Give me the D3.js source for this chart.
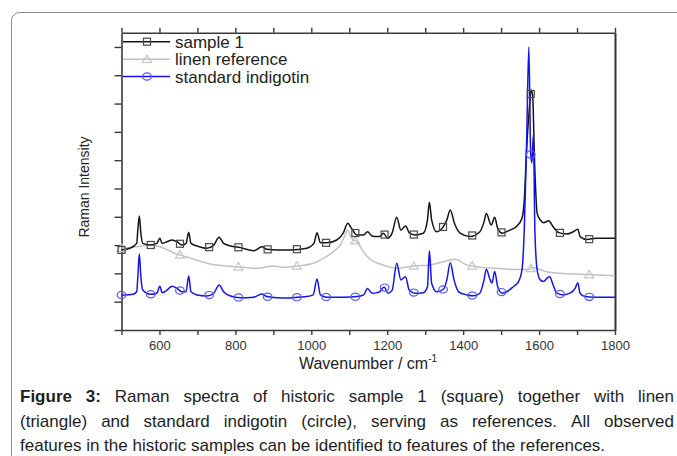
<!DOCTYPE html>
<html><head><meta charset="utf-8">
<script src="https://cdn.jsdelivr.net/npm/d3@7"></script>
<style>html,body{margin:0;padding:0;background:#fff;}svg{display:block;font-family:"Liberation Sans",Arial,Helvetica,sans-serif;}</style>
</head><body>
<svg id="c" width="677" height="456"></svg>
<script>
// ---- data (wavenumber / cm-1, Raman intensity in arbitrary units) ----
const xTicks = [500,600,700,800,900,1000,1100,1200,1300,1400,1500,1600,1700,1800];
const xTickLabels = ["600","800","1000","1200","1400","1600","1800"];
const yTicks = [0,1,2,3,4,5,6,7,8,9,10];

const sampleWn = [500,522,540,543,547,551,556,576,593,601,607,620,633,646,659,670,677,683,699,725,743,757,769,787,813,848,870,883,910,945,988,1007,1015,1024,1041,1067,1084,1096,1106,1120,1138,1148,1160,1173,1181,1190,1201,1213,1225,1236,1248,1259,1273,1295,1306,1311,1317,1330,1348,1357,1366,1377,1392,1418,1444,1455,1461,1474,1483,1491,1503,1523,1540,1555,1561,1567,1574,1579,1583,1588,1595,1603,1612,1625,1637,1652,1673,1690,1702,1708,1726,1751,1800];
const sampleI  = [2.83,2.89,3.06,3.53,4.03,3.42,3.06,3.00,3.06,3.24,3.06,3.12,3.18,3.12,3.00,3.06,3.45,3.06,2.97,2.89,3.00,3.28,3.06,2.97,2.91,2.80,2.94,2.85,2.83,2.83,2.89,3.06,3.44,3.08,3.08,3.18,3.42,3.77,3.59,3.36,3.36,3.47,3.32,3.30,3.30,3.42,3.24,3.43,3.98,3.53,3.67,3.42,3.36,3.42,3.89,4.51,3.89,3.47,3.65,3.89,4.24,3.77,3.42,3.30,3.47,3.82,4.12,3.71,3.98,3.59,3.42,3.53,3.65,3.95,4.59,6.36,7.77,8.48,8.30,6.00,4.12,3.89,3.79,3.86,3.65,3.44,3.39,3.47,3.56,3.30,3.20,3.24,3.24];

const linenWn = [500,540,575,601,645,689,733,777,821,856,900,926,961,1005,1032,1058,1076,1089,1095,1106,1120,1137,1155,1181,1207,1225,1269,1313,1348,1379,1409,1444,1488,1532,1576,1580,1620,1664,1708,1800];
const linenI  = [2.89,2.94,3.00,2.94,2.69,2.51,2.33,2.26,2.22,2.18,2.26,2.22,2.26,2.36,2.53,2.77,3.00,3.36,3.53,3.24,3.12,2.77,2.50,2.33,2.22,2.18,2.26,2.30,2.41,2.50,2.30,2.22,2.18,2.14,2.14,2.21,2.06,2.00,1.97,1.92];

const indigoWn = [500,510,530,540,543,547,551,556,576,593,601,607,620,633,646,659,670,677,683,699,725,743,757,769,787,813,848,870,883,910,945,962,988,1005,1015,1024,1041,1085,1120,1138,1148,1160,1173,1180,1192,1202,1213,1225,1236,1248,1258,1273,1295,1306,1311,1317,1330,1348,1357,1366,1376,1388,1410,1428,1444,1455,1461,1471,1476,1483,1491,1503,1515,1532,1546,1555,1561,1567,1573,1578,1581,1585,1589,1595,1603,1612,1621,1628,1637,1647,1664,1681,1695,1702,1708,1721,1744,1800];
const indigoI  = [1.24,1.24,1.26,1.35,1.88,2.69,1.88,1.41,1.26,1.30,1.55,1.32,1.41,1.55,1.47,1.35,1.35,1.91,1.35,1.24,1.20,1.30,1.59,1.35,1.20,1.14,1.16,1.27,1.18,1.14,1.13,1.16,1.18,1.24,1.80,1.24,1.16,1.16,1.18,1.24,1.47,1.30,1.32,1.35,1.52,1.30,1.41,2.36,1.77,1.88,1.41,1.30,1.32,1.53,2.80,1.65,1.35,1.44,1.77,2.38,1.77,1.35,1.24,1.21,1.30,1.77,2.15,1.77,1.66,2.07,1.53,1.30,1.35,1.53,1.71,2.12,3.53,6.50,10.0,6.20,5.90,6.90,3.50,2.12,1.77,1.71,1.83,1.88,1.59,1.30,1.24,1.30,1.47,1.67,1.30,1.18,1.16,1.16];

const seriesNames = ["sample 1","linen reference","standard indigotin"];
const seriesColors = ["#151515","#c2c2c2","#1414e6"];
const markerColors = ["#4a4a4a","#c6c6c6","#5a5af0"];
const captionLines = [
  ["Figure","3:","Raman","spectra","of","historic","sample","1","(square)","together","with","linen"],
  ["(triangle)","and","standard","indigotin","(circle),","serving","as","references.","All","observed"],
  ["features","in","the","historic","samples","can","be","identified","to","features","of","the","references."]
];

// ---- layout ----
const svg = d3.select("#c");
const x = d3.scaleLinear().domain([500,1800]).range([121.5,615]);
const y = d3.scaleLinear().domain([0,10.5]).range([330,32.8]);

// frame border
svg.append("rect").attr("x",11.5).attr("y",12.5).attr("width",720).attr("height",520)
  .attr("rx",8).attr("fill","none").attr("stroke","#8c8c8c").attr("stroke-width",1);

function styleAxis(g){
  g.selectAll(".domain").attr("stroke","#3a3a3a").attr("stroke-width",1.6);
  g.selectAll(".tick line").attr("stroke","#3a3a3a").attr("stroke-width",1.4);
  g.selectAll(".tick text").attr("fill","#333").attr("font-size",13).attr("font-family","Liberation Sans, Arial, sans-serif");
}
const gB = svg.append("g").attr("transform","translate(0,330)")
  .call(d3.axisBottom(x).tickValues(xTicks).tickSize(5).tickSizeOuter(0).tickPadding(6)
    .tickFormat(d => xTickLabels.includes(String(d)) ? String(d) : ""));
styleAxis(gB);
const gT = svg.append("g").attr("transform","translate(0,"+y(10.5)+")")
  .call(d3.axisTop(x).tickValues(xTicks).tickSize(5).tickSizeOuter(0).tickFormat(""));
styleAxis(gT);
const gL = svg.append("g").attr("transform","translate(121.5,0)")
  .call(d3.axisLeft(y).tickValues(yTicks).tickSize(7).tickSizeOuter(0).tickFormat(""));
styleAxis(gL);
const gR = svg.append("g").attr("transform","translate(615,0)")
  .call(d3.axisRight(y).tickValues([]).tickSize(0).tickSizeOuter(0));
styleAxis(gR);
gR.select(".domain").attr("stroke-width",2).attr("stroke","#333");

// axis titles
const xt = svg.append("text").attr("x",368).attr("y",369).attr("text-anchor","middle")
  .attr("font-size",16).attr("fill","#222");
xt.append("tspan").text("Wavenumber / cm");
xt.append("tspan").attr("font-size",10).attr("dy",-7).text("-1");
svg.append("text").attr("transform","translate(89,187) rotate(-90)").attr("text-anchor","middle")
  .attr("font-size",14).attr("fill","#222").text("Raman Intensity");

// curves
const data = [
  {wn: sampleWn, I: sampleI, step: 77},
  {wn: linenWn, I: linenI, step: 154},
  {wn: indigoWn, I: indigoI, step: 77}
];
const line = d3.line().curve(d3.curveMonotoneX);
const plot = svg.append("g");
[1,0,2].forEach(k => {
  const s = data[k];
  plot.append("path")
    .attr("d", line(s.wn.map((w,i)=>[x(w), y(s.I[i])])))
    .attr("fill","none").attr("stroke",seriesColors[k]).attr("stroke-width",1.5)
    .attr("stroke-linejoin","round");
});

function interp(xs, ys, v){
  const i = d3.bisectRight(xs, v);
  if (i <= 0) return ys[0];
  if (i >= xs.length) return ys[ys.length-1];
  const t = (v - xs[i-1])/(xs[i]-xs[i-1]);
  return ys[i-1] + t*(ys[i]-ys[i-1]);
}
function drawMarker(g, k, cx, cy){
  const c = markerColors[k];
  if (k === 0) {
    g.append("rect").attr("x",cx-3.5).attr("y",cy-3.5).attr("width",7).attr("height",7)
      .attr("fill","none").attr("stroke",c).attr("stroke-width",1.2);
  } else if (k === 1) {
    g.append("path").attr("d",`M${cx-4.5},${cy+3.2}L${cx},${cy-4.2}L${cx+4.5},${cy+3.2}Z`)
      .attr("fill","none").attr("stroke",c).attr("stroke-width",1.2);
  } else {
    g.append("ellipse").attr("cx",cx).attr("cy",cy).attr("rx",4.3).attr("ry",3.6)
      .attr("fill","none").attr("stroke",c).attr("stroke-width",1.2);
  }
}
[1,0,2].forEach(k => {
  const s = data[k];
  d3.range(500, 1800, s.step).forEach(w => drawMarker(plot, k, x(w), y(interp(s.wn, s.I, w))));
});

// legend
const legY = [41.7, 59.3, 76.5];
seriesNames.forEach((n,k) => {
  svg.append("line").attr("x1",123).attr("x2",170).attr("y1",legY[k]).attr("y2",legY[k])
    .attr("stroke",seriesColors[k]).attr("stroke-width",1.5);
  drawMarker(svg, k, 147, legY[k]);
  svg.append("text").attr("x",175).attr("y",legY[k]+6).attr("font-size",17).attr("fill","#222").text(n);
});

// caption
const capX0 = 20, capX1 = 674, capY = [402, 427, 451];
captionLines.forEach((words, li) => {
  const g = svg.append("g");
  const nodes = words.map((w, wi) => g.append("text").attr("y",capY[li]).attr("font-size",17)
    .attr("fill","#1e1e1e").attr("font-weight", (li===0 && wi<2) ? "bold" : "normal").text(w));
  const widths = nodes.map(t => t.node().getComputedTextLength());
  const total = d3.sum(widths);
  const gap = li < 2 ? (capX1 - capX0 - total)/(words.length-1) : 17*0.278;
  let cx = capX0;
  nodes.forEach((t,i) => { t.attr("x", cx); cx += widths[i] + gap; });
});
</script>
</body></html>
